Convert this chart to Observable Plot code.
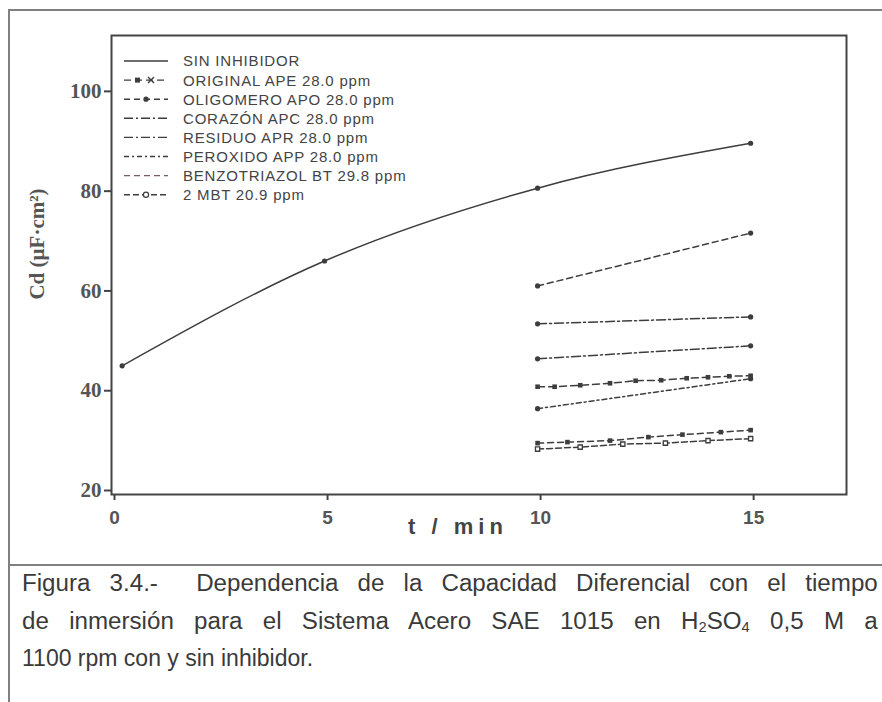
<!DOCTYPE html>
<html><head><meta charset="utf-8">
<script src="https://cdn.jsdelivr.net/npm/d3@7"></script>
<script src="https://cdn.jsdelivr.net/npm/@observablehq/plot@0.6"></script>
<style>
body{margin:0;background:#fff;}
#wrap{position:relative;width:882px;height:702px;overflow:hidden;background:#fff;}
.bd{position:absolute;background:#808080;}
#chart{position:absolute;left:0;top:0;}
.cap{position:absolute;left:22px;width:815px;transform:scaleX(1.05);transform-origin:left top;font-family:"Liberation Sans",Arial,sans-serif;font-size:23px;line-height:26px;color:#3a3a3a;text-align:justify;text-align-last:justify;}
.cap sub{font-size:14px;vertical-align:-3px;line-height:0;}
</style></head>
<body>
<div id="wrap">
  <div class="bd" style="left:8px;top:9px;width:2px;height:700px"></div>
  <div class="bd" style="left:8px;top:9px;width:880px;height:2px"></div>
  <div class="bd" style="left:8px;top:564px;width:880px;height:2px"></div>
  <div id="chart"></div>
  <div class="cap" style="top:570px">Figura 3.4.-&nbsp; Dependencia de la Capacidad Diferencial con el tiempo</div>
  <div class="cap" style="top:608px">de inmersión para el Sistema Acero SAE 1015 en H<sub>2</sub>SO<sub>4</sub> 0,5 M a</div>
  <div class="cap" style="top:645px;text-align-last:left;transform:none;width:856px">1100 rpm con y sin inhibidor.</div>
</div>
<script>
// ---- data ----
const xTicks = [0, 5, 10, 15];
const yTicks = [20, 40, 60, 80, 100];

const tSin = [0.25, 5, 10, 15];
const cdSin = [45.8, 66.8, 81.4, 90.4];

const tApe = [10, 10.4, 11, 11.7, 12.3, 12.9, 13.5, 14, 14.5, 15];
const cdApe = [41.6, 41.6, 41.9, 42.3, 42.8, 42.9, 43.3, 43.5, 43.7, 43.8];

const tApo = [10, 10.7, 11.7, 12.6, 13.4, 14.3, 15];
const cdApo = [30.3, 30.5, 30.8, 31.5, 32.0, 32.5, 32.9];

const tApc = [10, 15];
const cdApc = [54.2, 55.6];

const tApr = [10, 15];
const cdApr = [47.2, 49.8];

const tApp = [10, 15];
const cdApp = [37.2, 43.2];

const tBt = [10, 15];
const cdBt = [61.8, 72.4];

const tMbt = [10, 11, 12, 13, 14, 15];
const cdMbt = [29.1, 29.5, 30.1, 30.3, 30.8, 31.2];

const legendLabels = [
  "SIN INHIBIDOR",
  "ORIGINAL APE 28.0 ppm",
  "OLIGOMERO APO 28.0 ppm",
  "CORAZÓN APC 28.0 ppm",
  "RESIDUO APR 28.0 ppm",
  "PEROXIDO APP 28.0 ppm",
  "BENZOTRIAZOL BT 29.8 ppm",
  "2 MBT 20.9 ppm"
];

// ---- build tables ----
const rows = (name, t, cd) => t.map((x, i) => ({name, t: x, cd: cd[i]}));
const sin = rows(legendLabels[0], tSin, cdSin);
const ape = rows(legendLabels[1], tApe, cdApe);
const apo = rows(legendLabels[2], tApo, cdApo);
const apc = rows(legendLabels[3], tApc, cdApc);
const apr = rows(legendLabels[4], tApr, cdApr);
const app = rows(legendLabels[5], tApp, cdApp);
const bt  = rows(legendLabels[6], tBt, cdBt);
const mbt = rows(legendLabels[7], tMbt, cdMbt);

const ink = "#3d3d3d";
const styles = [
  {data: sin, dash: null},
  {data: ape, dash: "7,4"},
  {data: apo, dash: "6,4"},
  {data: apc, dash: "9,3,2,3"},
  {data: apr, dash: "9,3,2,3"},
  {data: app, dash: "5,3,2,3"},
  {data: bt,  dash: "6,4"},
  {data: mbt, dash: "6,3"}
];

const lineMarks = styles.map((s, i) => Plot.line(s.data, {
  x: "t", y: "cd", stroke: ink, strokeWidth: 1.5,
  strokeDasharray: s.dash, curve: i === 0 ? "monotone-x" : "linear"
}));

const ends = [apc, apr, app, bt].flatMap(d => d);
const xLabel = "t / min";
const yLabel = "Cd (µF·cm²)";

const chart = Plot.plot({
  width: 882, height: 560,
  marginLeft: 111, marginRight: 36, marginTop: 35, marginBottom: 66,
  x: {domain: [0, 17.25]},
  y: {domain: [20, 112]},
  style: {background: "transparent", color: ink},
  marks: [
    Plot.frame({stroke: "#444", strokeWidth: 2}),
    Plot.axisX({ticks: xTicks, tickSize: 6, tickPadding: 10, label: null, stroke: "#444", strokeWidth: 2,
      fontSize: 19, fontWeight: "bold", fontFamily: "Liberation Sans, Arial, sans-serif", fill: "#555", dx: 3}),
    Plot.axisY({ticks: yTicks, tickSize: 7, tickPadding: 3, label: null, stroke: "#444", strokeWidth: 2,
      fontSize: 21, fontWeight: "bold", fontFamily: "Liberation Serif, Times New Roman, serif", fill: "#555", dy: -4}),
    Plot.text([xLabel], {frameAnchor: "bottom", dx: -21, dy: 39, fontSize: 22, fontWeight: "bold",
      fontFamily: "Liberation Sans, Arial, sans-serif", fill: "#444"}),
    Plot.text([yLabel], {frameAnchor: "left", textAnchor: "middle", dx: -74, dy: -21, rotate: -90,
      fontSize: 21, fontWeight: "bold", fontFamily: "Liberation Serif, Times New Roman, serif", fill: "#555"}),
    ...lineMarks,
    Plot.dot(sin, {x: "t", y: "cd", r: 2.6, fill: ink}),
    Plot.dot(ends, {x: "t", y: "cd", r: 2.6, fill: ink}),
    Plot.dot(ape, {x: "t", y: "cd", symbol: "square", r: 2.6, fill: ink}),
    Plot.dot(apo, {x: "t", y: "cd", symbol: "square", r: 2.6, fill: ink}),
    Plot.dot(mbt, {x: "t", y: "cd", symbol: "square", r: 2.4, fill: "white", stroke: ink, strokeWidth: 1.3})
  ]
});
document.getElementById("chart").append(chart);

const svg = d3.select(chart);
// wider letter spacing for the x-axis title, as in the original
svg.selectAll("text").filter(function() { return this.textContent === xLabel; })
  .attr("letter-spacing", 5);

// ---- legend (drawn inside the frame, top-left) ----
const lg = svg.append("g").attr("font-family", "Liberation Sans, Arial, sans-serif").attr("font-size", 15)
  .attr("fill", "#444").attr("letter-spacing", 0.8).attr("text-anchor", "start");
legendLabels.forEach((lab, i) => {
  const y = 61 + i * 19.1;
  lg.append("line").attr("x1", 124).attr("x2", 168).attr("y1", y).attr("y2", y)
    .attr("stroke", i === 6 ? "#7a5a66" : ink).attr("stroke-width", 1.4)
    .attr("stroke-dasharray", styles[i].dash);
  if (i === 1) {
    lg.append("rect").attr("x", 135).attr("y", y - 2.5).attr("width", 5).attr("height", 5).attr("fill", ink);
    lg.append("path").attr("d", `M148,${y-3}L154,${y+3}M148,${y+3}L154,${y-3}`).attr("stroke", ink).attr("stroke-width", 1.4);
  } else if (i === 2) {
    lg.append("circle").attr("cx", 146).attr("cy", y).attr("r", 2.6).attr("fill", ink);
  } else if (i === 7) {
    lg.append("circle").attr("cx", 146).attr("cy", y).attr("r", 2.6).attr("fill", "white").attr("stroke", ink).attr("stroke-width", 1.2);
  }
  lg.append("text").attr("x", 183).attr("y", y).attr("dy", "0.36em").attr("text-anchor", "start").text(lab);
});
</script>
</body></html>
